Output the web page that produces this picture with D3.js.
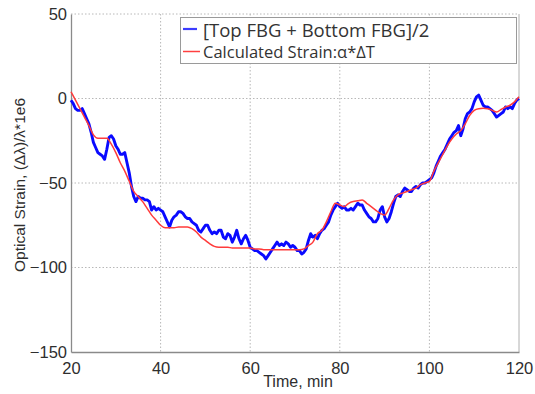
<!DOCTYPE html>
<html>
<head>
<meta charset="utf-8">
<script src="https://cdn.jsdelivr.net/npm/d3@7"></script>
<style>
  html, body { margin: 0; padding: 0; background: #fff; }
  svg { display: block; }
</style>
</head>
<body>
<svg id="chart" width="535" height="394"></svg>
<script>
// Time axis (minutes) and strain axis ticks
const xTicks = [20, 40, 60, 80, 100, 120];
const yTicks = [50, 0, -50, -100, -150];

// Measured strain, average of top and bottom FBG, sampled every 0.5 min from 20 to 120
const measuredStart = 20;
const measuredStep = 0.5;
const measured = [
  -1, -3, -6, -7, -7, -6, -9, -12, -15, -20,
  -26, -29, -32, -33, -34, -36, -30, -23, -22, -24,
  -28, -30, -33, -33, -32, -38, -44, -52, -58, -61,
  -58, -59, -59, -60, -60, -61, -66, -64, -66, -65,
  -66, -67, -70, -73, -76, -72, -70, -69, -67, -67,
  -68, -70, -71, -71, -73, -74, -75, -78, -79, -77,
  -75, -75, -78, -80, -79, -80, -78, -78, -82, -83,
  -80, -81, -85, -82, -78, -83, -86, -83, -81, -84,
  -88, -89, -90, -90, -91, -92, -93, -95, -93, -91,
  -89, -87, -85, -87, -86, -87, -85, -86, -88, -87,
  -88, -90, -90, -92, -91, -89, -84, -80, -82, -81,
  -83, -80, -78, -77, -75, -73, -69, -66, -64, -62,
  -64, -65, -64, -66, -66, -65, -66, -64, -62, -63,
  -63, -66, -68, -70, -71, -73, -73, -71, -66, -64,
  -70, -73, -71, -67, -62, -58, -57, -58, -55, -53,
  -54, -55, -55, -53, -52, -53, -51, -50, -50, -49,
  -48, -47, -44, -40, -37, -34, -32, -30, -27, -24,
  -22, -20, -19, -16, -22, -18, -12, -9, -8, -6,
  -2, 1, 2, -1, -4, -5, -5, -6, -7, -9,
  -11, -10, -9, -8, -5, -6, -5, -6, -3, -1,
  0
];

// Calculated strain alpha*dT, one value per minute from 20 to 120
const calcStart = 20;
const calcStep = 1;
const calculated = [
  4, -1, -6, -11, -16, -21.5, -23.5, -23.5, -23.5, -27,
  -32, -38, -43, -49, -55, -58, -61, -65, -69, -72,
  -75, -76.5, -76.5, -76.5, -76, -76, -76, -77, -79, -82,
  -84, -86, -87.5, -88, -88, -88, -88.5, -88.5, -88.5, -88.5,
  -88.5, -89, -89, -89.5, -89.5, -89.5, -89.5, -89.5, -89.5, -89.5,
  -89.5, -89.5, -89, -87, -85, -80, -78, -73, -67, -62,
  -63, -64, -62, -61, -60.5, -60, -62, -64, -66, -68,
  -69, -65, -60, -57, -56, -55, -54, -53, -51, -50,
  -49, -43, -38, -33, -28, -24, -21, -19, -15, -10,
  -7, -6, -5.8, -6, -7, -8, -6.5, -5, -4, -2,
  1
];

const legendLabels = ["[Top FBG + Bottom FBG]/2", "Calculated Strain:\u03b1*\u0394T"];

const svg = d3.select("#chart");
const plot = { left: 71, right: 519, top: 14, bottom: 352 };

const x = d3.scaleLinear().domain([20, 120]).range([plot.left, plot.right]);
const y = d3.scaleLinear().domain([-150, 50]).range([plot.bottom, plot.top]);

const tickFont = "'Liberation Sans', Arial, sans-serif";
const textColor = "#2e2e2e";

// Dotted grid
const grid = svg.append("g");
grid.selectAll("line.gx").data(xTicks.slice(1, -1)).join("line")
  .attr("x1", d => x(d)).attr("x2", d => x(d))
  .attr("y1", plot.top).attr("y2", plot.bottom)
  .attr("stroke", "#b8b8b8").attr("stroke-width", 1).attr("stroke-dasharray", "1.5,2");
grid.selectAll("line.gy").data(yTicks.slice(0, -1)).join("line")
  .attr("x1", plot.left).attr("x2", plot.right)
  .attr("y1", d => y(d)).attr("y2", d => y(d))
  .attr("stroke", "#b8b8b8").attr("stroke-width", 1).attr("stroke-dasharray", "1.5,2");

// Axis frame: solid left, bottom and right edges
svg.append("line").attr("x1", plot.right).attr("x2", plot.right)
  .attr("y1", plot.top).attr("y2", plot.bottom)
  .attr("stroke", "#b0b0b0").attr("stroke-width", 1);

const xAxis = svg.append("g")
  .attr("transform", `translate(0,${plot.bottom})`)
  .call(d3.axisBottom(x).tickValues(xTicks).tickSize(0).tickPadding(6));
const yAxis = svg.append("g")
  .attr("transform", `translate(${plot.left},0)`)
  .call(d3.axisLeft(y).tickValues(yTicks).tickSize(0).tickPadding(4));

[xAxis, yAxis].forEach(g => {
  g.select(".domain").attr("stroke", "#8a8a8a").attr("stroke-width", 1.3);
  g.selectAll("text").attr("font-family", tickFont).attr("font-size", 16.5)
    .attr("fill", textColor);
});
xAxis.selectAll("text").attr("dy", "0.95em");

// Series lines
const measuredPts = measured.map((v, i) => [measuredStart + i * measuredStep, v]);
const calcPts = calculated.map((v, i) => [calcStart + i * calcStep, v]);
const line = d3.line().x(d => x(d[0])).y(d => y(d[1]));

svg.append("path").datum(measuredPts)
  .attr("d", line).attr("fill", "none")
  .attr("stroke", "#0a0aff").attr("stroke-width", 2.9)
  .attr("stroke-linejoin", "round");
svg.append("path").datum(calcPts)
  .attr("d", d3.line().curve(d3.curveMonotoneX).x(d => x(d[0])).y(d => y(d[1])))
  .attr("fill", "none")
  .attr("stroke", "#ff3b3b").attr("stroke-width", 1.5)
  .attr("stroke-linejoin", "round");

// Axis titles
svg.append("text")
  .attr("x", 298).attr("y", 387)
  .attr("text-anchor", "middle")
  .attr("font-family", tickFont).attr("font-size", 16)
  .attr("fill", textColor)
  .text("Time, min");
svg.append("text")
  .attr("transform", "translate(25,185) rotate(-90)")
  .attr("text-anchor", "middle")
  .attr("font-family", tickFont).attr("font-size", 15.5)
  .attr("fill", textColor)
  .text("Optical Strain, (\u0394\u03bb)/\u03bb*1e6");

// Legend
const legend = svg.append("g");
legend.append("rect")
  .attr("x", 180.5).attr("y", 17.5).attr("width", 336).attr("height", 46)
  .attr("fill", "#fff").attr("stroke", "#9a9a9a").attr("stroke-width", 1);
const legendColors = ["#3c3cff", "#ff4040"];
const legendY = [29, 51.5];
const legendSize = [18.5, 16.5];
legendLabels.forEach((lab, i) => {
  legend.append("line")
    .attr("x1", 183).attr("x2", i === 0 ? 197 : 200)
    .attr("y1", legendY[i]).attr("y2", legendY[i])
    .attr("stroke", legendColors[i]).attr("stroke-width", i === 0 ? 2.2 : 1.5);
  legend.append("text")
    .attr("x", 203).attr("y", legendY[i] + (i === 0 ? 8 : 6.5))
    .attr("font-family", "'Open Sans', 'Noto Sans', sans-serif")
    .attr("font-size", legendSize[i])
    .attr("fill", "#333")
    .text(lab);
});
</script>
</body>
</html>
